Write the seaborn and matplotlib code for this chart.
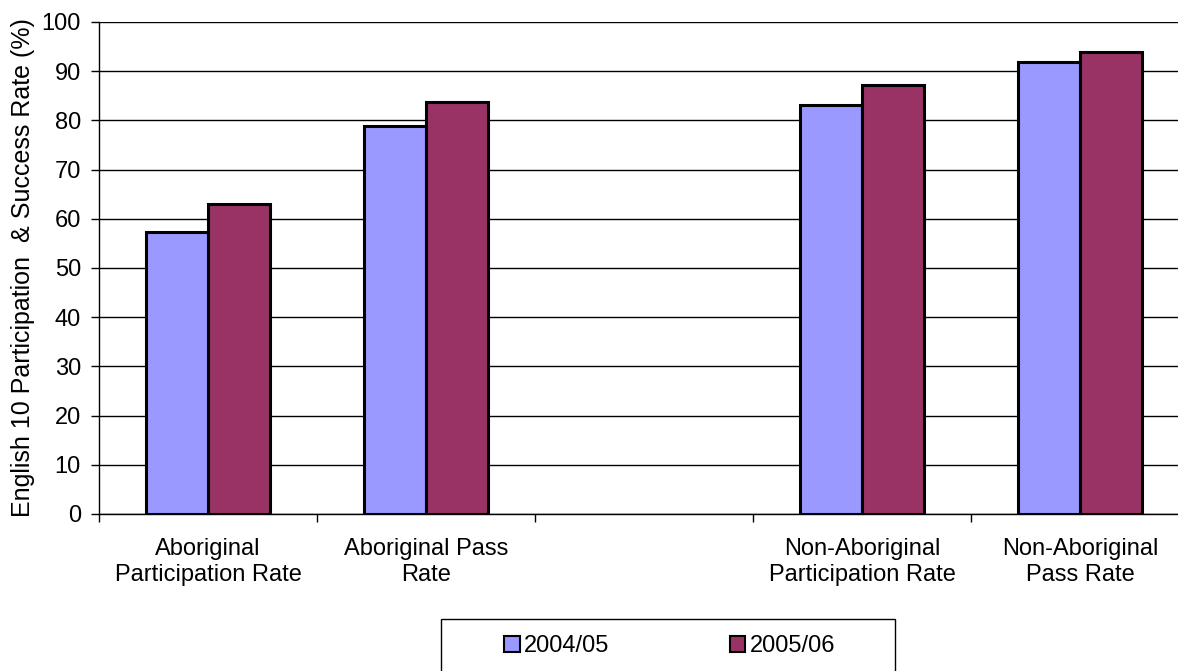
import pandas as pd
import numpy as np
import matplotlib
matplotlib.use("Agg")
import matplotlib.pyplot as plt
from matplotlib.patches import Rectangle, Patch
import seaborn as sns

# data
categories = ["Aboriginal\nParticipation Rate", "Aboriginal Pass\nRate", "",
              "Non-Aboriginal\nParticipation Rate", "Non-Aboriginal\nPass Rate"]
years = ["2004/05", "2005/06"]
rate_0405 = [57.4, 78.9, None, 83.2, 91.9]
rate_0506 = [63.1, 83.8, None, 87.1, 94.0]
year_colors = ["#9999FF", "#993366"]

rows = []
for cat, a, b in zip(categories, rate_0405, rate_0506):
    if a is not None:
        rows.append({"Category": cat, "Year": years[0], "Rate": a})
        rows.append({"Category": cat, "Year": years[1], "Rate": b})
df = pd.DataFrame(rows)

sns.set_theme(style="white")
plt.rcParams["font.family"] = ["Liberation Sans", "DejaVu Sans"]
plt.rcParams["text.color"] = "black"
plt.rcParams["axes.labelcolor"] = "black"
plt.rcParams["xtick.color"] = "black"
plt.rcParams["ytick.color"] = "black"

fig = plt.figure(figsize=(11.78, 6.71), dpi=100)
ax = fig.add_axes([99 / 1178, 157 / 671, 1090 / 1178, 492 / 671])

sns.barplot(data=df, x="Category", y="Rate", hue="Year", order=categories,
            hue_order=years, palette=year_colors, width=0.57,
            edgecolor="black", linewidth=2.2, saturation=1, ax=ax, legend=False)

ax.set_ylim(0, 100)
ax.set_xlim(-0.5, 4.5)
ax.set_yticks(np.arange(0, 101, 10))
ax.yaxis.grid(True, color="black", linewidth=1)
ax.set_axisbelow(True)
for side in ["left", "bottom"]:
    ax.spines[side].set_color("black")
    ax.spines[side].set_linewidth(1)
ax.spines["top"].set_visible(False)
ax.spines["right"].set_visible(False)

# category labels centred, tick marks between categories
ax.set_xticks(np.arange(-0.5, 5.0, 1.0))
ax.set_xticklabels([])
ax.set_xticks(np.arange(len(categories)), minor=True)
ax.set_xticklabels(categories, minor=True, fontsize=17, linespacing=1.25)
ax.tick_params(axis="x", which="major", direction="out", length=6, width=1,
               color="black", bottom=True)
ax.tick_params(axis="x", which="minor", length=0, pad=17)
ax.tick_params(axis="y", direction="out", length=6, width=1, color="black",
               left=True, labelsize=17, pad=7)

ax.set_xlabel("")
ax.set_ylabel("English 10 Participation  & Success Rate (%)", fontsize=18)
ax.yaxis.set_label_coords(-0.059, 0.5)

# legend in a box below the chart
handles = [Patch(facecolor=c, edgecolor="black", linewidth=1.5) for c in year_colors]
fig.legend(handles, years, loc="center", bbox_to_anchor=(670 / 1178, 1 - 646 / 671),
           ncol=2, frameon=False, fontsize=17, handlelength=0.65, handleheight=0.65,
           handletextpad=0.2, columnspacing=5.1)
fig.patches.append(Rectangle((441 / 1178, -0.02), (895 - 441) / 1178, 0.02 + 52 / 671,
                             transform=fig.transFigure, fill=False,
                             edgecolor="black", linewidth=1))

fig.savefig("out.png", dpi=100)
